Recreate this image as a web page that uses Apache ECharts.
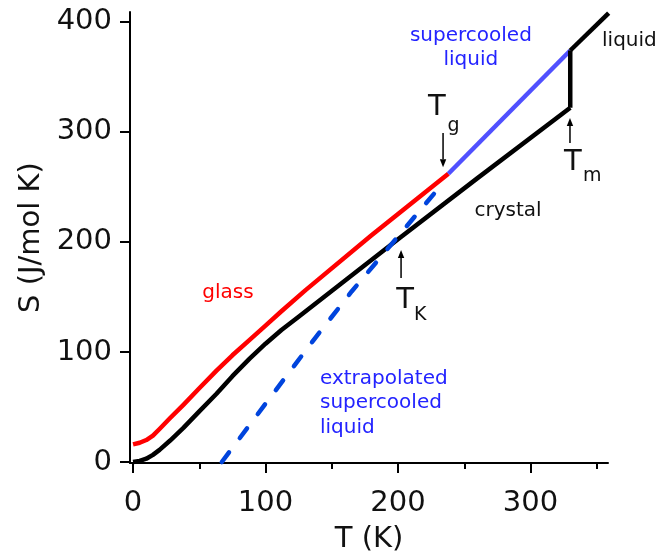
<!DOCTYPE html>
<html>
<head>
<meta charset="utf-8">
<script src="https://cdn.jsdelivr.net/npm/echarts@6/dist/echarts.min.js"></script>
<style>
  html, body { margin: 0; padding: 0; background: #fff; }
  #chart { width: 655px; height: 552px; }
</style>
</head>
<body>
<div id="chart"></div>
<script>
// Entropy S (J/mol K) versus temperature T (K) for each branch
const crystalT = [0, 5, 10, 15, 20, 28, 38, 50, 63, 75, 88, 100, 112, 125, 200, 260, 330];
const crystalS = [0, 1, 3, 6.5, 11, 19.5, 31, 46, 62, 78, 94, 107.5, 120, 132, 202.5, 258, 322];
const glassT = [0, 5, 10, 15, 20, 28, 38, 50, 63, 75, 88, 100, 112, 130, 180, 238];
const glassS = [16, 17.5, 20, 24, 30, 40, 52, 67, 83, 97, 111, 124, 137, 156, 206, 262];
const superT = [238, 330];
const superS = [262, 374];
const meltT = [330, 330];
const meltS = [322, 374];
const liquidT = [330, 359];
const liquidS = [374, 408];
const extrapT = [67, 100, 137, 165, 200, 235];
const extrapS = [0, 53, 112, 155, 205, 255];

// Axis ticks
const xTicks = [0, 100, 200, 300];
const xMinorTicks = [50, 150, 250, 350];
const yTicks = [0, 100, 200, 300, 400];

const pairs = (xs, ys) => xs.map((x, i) => [x, ys[i]]);

const FONT = 'DejaVu Sans';
const chart = echarts.init(document.getElementById('chart'), null, { renderer: 'canvas' });

const lineSeries = (name, data, color, extra) => Object.assign({
  name, type: 'line', data, showSymbol: false, symbol: 'none',
  lineStyle: { color, width: 4.5, join: 'round' }, silent: true
}, extra || {});

const option = {
  animation: false,
  backgroundColor: '#fff',
  grid: { left: 130, right: 47, top: 12, bottom: 89, outerBoundsMode: 'none', containLabel: false },
  xAxis: [{
    type: 'value', position: 'bottom', min: -2.3, max: 358.5,
    name: 'T (K)', nameLocation: 'middle', nameGap: 62,
    nameTextStyle: { fontFamily: FONT, fontSize: 29, color: '#111' },
    axisLine: { onZero: false, lineStyle: { color: '#000', width: 2 } },
    axisTick: { customValues: xTicks, length: 10, lineStyle: { color: '#000', width: 2 } },
    axisLabel: { customValues: xTicks, margin: 26, fontFamily: FONT, fontSize: 29, color: '#111' },
    splitLine: { show: false }
  }, {
    type: 'value', position: 'bottom', min: -2.3, max: 358.5,
    axisLine: { show: false, onZero: false },
    axisTick: { customValues: xMinorTicks, length: 6, lineStyle: { color: '#000', width: 2 } },
    axisLabel: { show: false },
    splitLine: { show: false }
  }],
  yAxis: {
    type: 'value', min: -0.9, max: 409,
    name: 'S (J/mol K)', nameLocation: 'middle', nameGap: 84, nameRotate: 90,
    nameTextStyle: { fontFamily: FONT, fontSize: 29, color: '#111' },
    axisLine: { onZero: false, lineStyle: { color: '#000', width: 2 } },
    axisTick: { customValues: yTicks, length: 10, lineStyle: { color: '#000', width: 2 } },
    axisLabel: { customValues: yTicks, margin: 18, fontFamily: FONT, fontSize: 29, color: '#111' },
    splitLine: { show: false }
  },
  series: [
    lineSeries('crystal', pairs(crystalT, crystalS), '#000'),
    lineSeries('glass', pairs(glassT, glassS), '#ff0000'),
    lineSeries('extrapolated', pairs(extrapT, extrapS), '#0044dd', {
      lineStyle: { color: '#0044dd', width: 4.5, type: [12, 18], cap: 'round' }
    }),
    lineSeries('supercooled', pairs(superT, superS), '#5050ff'),
    lineSeries('melting', pairs(meltT, meltS), '#000'),
    lineSeries('liquid', pairs(liquidT, liquidS), '#000')
  ]
};
chart.setOption(option);

// Annotations, placed in data coordinates
const px = (t, s) => chart.convertToPixel({ gridIndex: 0 }, [t, s]);

function label(t, s, text, color, size, align, lineHeight) {
  const p = px(t, s);
  return {
    type: 'text', x: p[0], y: p[1], silent: true,
    style: {
      text, fill: color, fontFamily: FONT, fontSize: size,
      align: align || 'center', verticalAlign: 'middle',
      lineHeight: lineHeight || size
    }
  };
}

function arrow(t, sTail, sTip) {
  const a = px(t, sTail), b = px(t, sTip);
  const dir = b[1] > a[1] ? 1 : -1;
  const headLen = 8, headHalf = 3.2;
  return [{
    type: 'line', silent: true,
    shape: { x1: a[0], y1: a[1], x2: b[0], y2: b[1] - dir * headLen },
    style: { stroke: '#000', lineWidth: 1.5 }
  }, {
    type: 'polygon', silent: true,
    shape: { points: [[b[0], b[1]], [b[0] - headHalf, b[1] - dir * headLen], [b[0] + headHalf, b[1] - dir * headLen]] },
    style: { fill: '#000' }
  }];
}

const BLUE_TEXT = '#2323ff';
const graphics = [
  label(71.7, 153.6, 'glass', '#ff0000', 20),
  label(283, 228, 'crystal', '#111', 20),
  label(354, 382.7, 'liquid', '#111', 20, 'left'),
  label(255, 376.4, 'supercooled\nliquid', BLUE_TEXT, 20, 'center', 24),
  label(141.1, 53.6, 'extrapolated\nsupercooled\nliquid', BLUE_TEXT, 20, 'left', 24.5),
  // T_g
  label(229.4, 322, 'T', '#111', 29),
  label(237.4, 305, 'g', '#111', 19, 'left'),
  ...arrow(234, 299, 268),
  // T_m
  label(332, 272, 'T', '#111', 29),
  label(339.6, 260, 'm', '#111', 19, 'left'),
  ...arrow(329.8, 290, 312.7),
  // T_K
  label(205.3, 147, 'T', '#111', 29),
  label(212, 133.6, 'K', '#111', 19, 'left'),
  ...arrow(202.3, 167.3, 192.7)
];
chart.setOption({ graphic: graphics });
</script>
</body>
</html>
